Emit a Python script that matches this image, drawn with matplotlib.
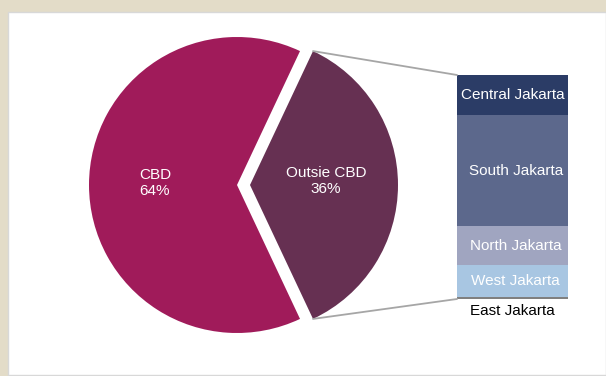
import matplotlib.pyplot as plt
from matplotlib.patches import Rectangle, ConnectionPatch
import numpy as np

plt.rcParams['font.family'] = ['Liberation Sans', 'DejaVu Sans']

# pie data
pie_labels = ["Outsie CBD", "CBD"]
pie_values = [36, 64]
pie_colors = ["#663052", "#a01b5a"]

# breakdown of outside CBD (top to bottom)
area_labels = ["Central Jakarta", "South Jakarta", "North Jakarta", "West Jakarta", "East Jakarta"]
area_values = [18, 49.5, 17.5, 14, 1]
area_colors = ["#2b3c66", "#5c688c", "#a0a5c0", "#a8c6e2", "#808080"]

W, H = 606, 376
fig = plt.figure(figsize=(W / 100, H / 100), dpi=100, facecolor="#e3dcc8")

# white panel
fig.patches.append(Rectangle((8 / W, 1 / H), 1 - 8 / W, 363 / H, transform=fig.transFigure,
                             facecolor="white", edgecolor="#d8d8d8", lw=1, zorder=-5))

ax = fig.add_axes([0, 0, 1, 1])
ax.set_facecolor("none")

it = iter(pie_labels)
# explode in pie is in data units (pixels here)
wedges, _, autotexts = ax.pie(
    pie_values, colors=pie_colors, center=(237, 191), radius=148,
    startangle=-64.8, explode=[13, 0],
    autopct=lambda p: f"{next(it)}\n{p:.0f}%", pctdistance=0.53,
    textprops=dict(color="white", fontsize=11, linespacing=1.1),
    wedgeprops=dict(linewidth=0))
autotexts[0].set_position((326, 195))
autotexts[1].set_position((155, 193))
ax.set_xlim(0, W)
ax.set_ylim(0, H)
ax.set_aspect("auto")
ax.axis("off")

# stacked bar
bx = fig.add_axes([457 / W, 77 / H, 111 / W, 224 / H])
bx.set_facecolor("none")
bottom = 100.0
for lab, val, col in zip(area_labels, area_values, area_colors):
    bottom -= val
    bx.bar(0, val, bottom=bottom, width=1, color=col, linewidth=0)
    if lab != "East Jakarta":
        dx = 0 if lab == "Central Jakarta" else 0.03
        bx.text(dx, bottom + val / 2, lab, ha="center", va="center", color="white", fontsize=11)
bx.text(0, -5.4, "East Jakarta", ha="center", va="center", color="black", fontsize=11)
bx.set_xlim(-0.5, 0.5)
bx.set_ylim(0, 100)
bx.axis("off")

# connector lines
w = wedges[0]
cx, cy = w.center
for ang, ypos in [(w.theta2, 100), (w.theta1, 0)]:
    p = (cx + w.r * np.cos(np.radians(ang)), cy + w.r * np.sin(np.radians(ang)))
    con = ConnectionPatch(xyA=p, coordsA=ax.transData, xyB=(-0.5, ypos), coordsB=bx.transData,
                          color="#a6a6a6", lw=1.3)
    fig.add_artist(con)

fig.savefig("out.png", dpi=100, facecolor=fig.get_facecolor())
